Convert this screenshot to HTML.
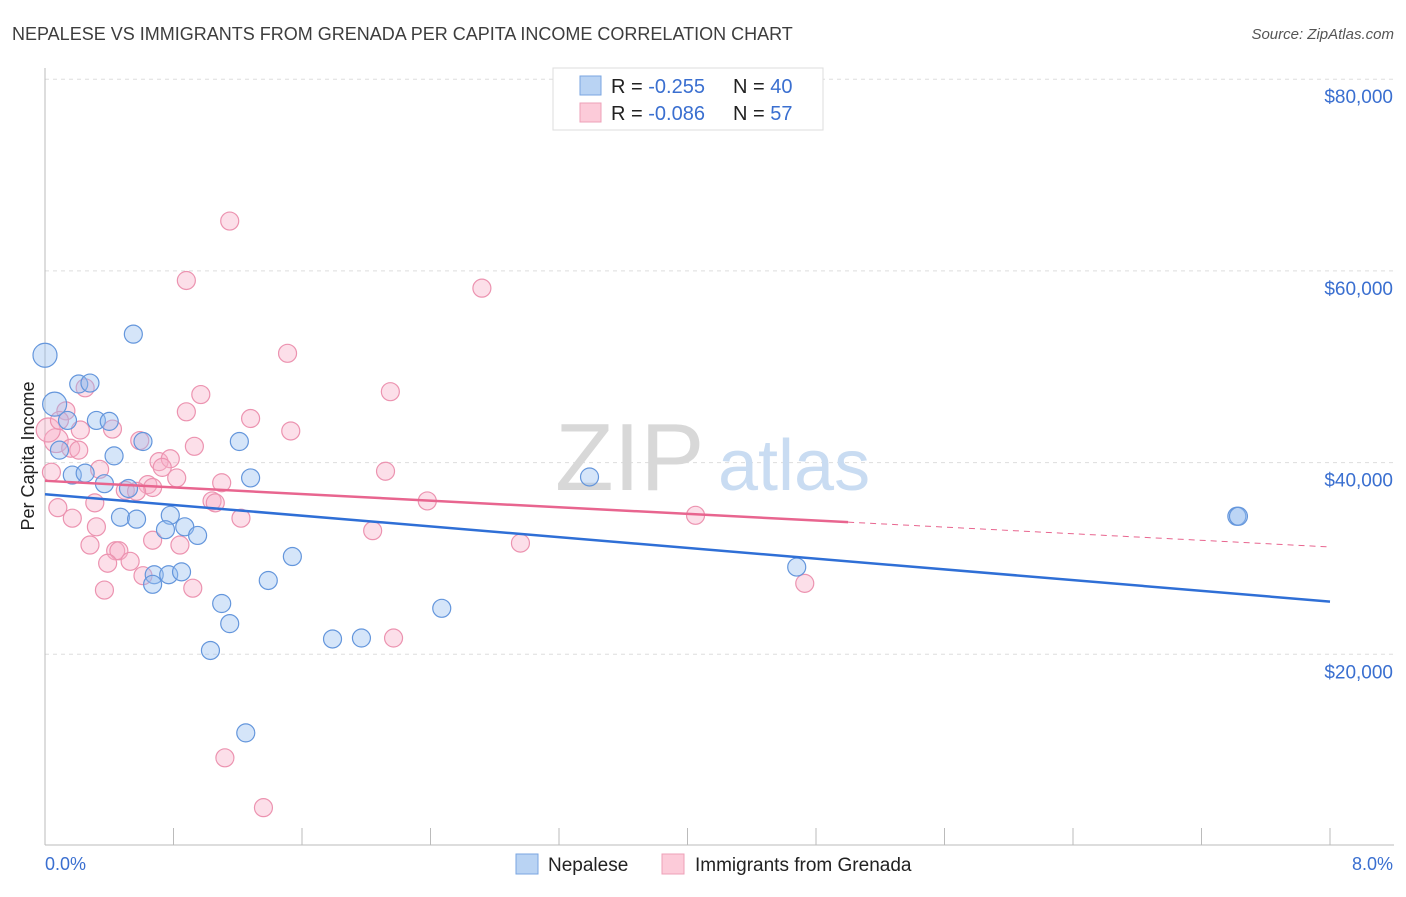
<!DOCTYPE html>
<html><head><meta charset="utf-8"><style>
body{margin:0;background:#fff;font-family:"Liberation Sans",sans-serif}
svg text{font-family:"Liberation Sans",sans-serif}
</style></head><body>
<svg width="1406" height="892" viewBox="0 0 1406 892">
<text x="12" y="40" font-size="18" fill="#3d3d3d">NEPALESE VS IMMIGRANTS FROM GRENADA PER CAPITA INCOME CORRELATION CHART</text>
<text x="1394" y="39" font-size="15" fill="#555" font-style="italic" text-anchor="end">Source: ZipAtlas.com</text>
<g id="grid"></g>
<text x="555" y="490" font-size="96" fill="#d8d8d8" font-family="Liberation Serif">ZIP</text>
<text x="718" y="490" font-size="72" fill="#c9dcf2">atlas</text>
<line x1="45" y1="68" x2="45" y2="845" stroke="#bbb"/>
<line x1="45" y1="845" x2="1394" y2="845" stroke="#bbb"/>
<g id="xticks"></g>
<text x="45" y="870" font-size="18" fill="#3a6fd0">0.0%</text>
<text x="1393" y="870" font-size="18" fill="#3a6fd0" text-anchor="end">8.0%</text>
<text transform="translate(34,456) rotate(-90)" font-size="18" fill="#222" text-anchor="middle">Per Capita Income</text>
<g id="pts"></g>
<g id="lines"></g>
<g>
<rect x="553" y="68" width="270" height="62" fill="#fff" stroke="#ddd"/>
<rect x="580" y="76" width="21" height="19" fill="#b9d3f3" stroke="#7aa6e0"/>
<rect x="580" y="103" width="21" height="19" fill="#fccbd9" stroke="#eea0b8"/>
<text x="611" y="93" font-size="20" fill="#222">R = <tspan fill="#3a6fd0">-0.255</tspan><tspan x="733">N = </tspan><tspan fill="#3a6fd0">40</tspan></text>
<text x="611" y="120" font-size="20" fill="#222">R = <tspan fill="#3a6fd0">-0.086</tspan><tspan x="733">N = </tspan><tspan fill="#3a6fd0"> 57</tspan></text>
</g>
<g>
<rect x="516" y="854" width="22" height="20" fill="#b9d3f3" stroke="#7aa6e0"/>
<text x="548" y="871" font-size="19" fill="#222">Nepalese</text>
<rect x="662" y="854" width="22" height="20" fill="#fccbd9" stroke="#eea0b8"/>
<text x="695" y="871" font-size="19" fill="#222">Immigrants from Grenada</text>
</g>
</svg>
<script>
const yTicks=[20000,40000,60000,80000];
const yTickLabels=["$20,000","$40,000","$60,000","$80,000"];
const xTicks=[0,0.8,1.6,2.4,3.2,4,4.8,5.6,6.4,7.2,8];
const nepX=[0,0.55,0.21,0.28,0.06,0.14,0.32,0.40,0.09,0.61,1.21,0.43,0.17,0.25,0.37,0.52,1.28,3.39,0.47,0.57,0.78,0.75,0.87,0.95,1.54,7.42,7.43,4.68,0.68,0.77,0.85,0.67,1.39,1.10,2.47,1.15,1.79,1.97,1.03,1.25];
const nepY=[51.2,53.4,48.2,48.3,46.1,44.4,44.4,44.3,41.3,42.2,42.2,40.7,38.7,38.9,37.8,37.3,38.4,38.5,34.3,34.1,34.5,33.0,33.3,32.4,30.2,34.4,34.4,29.1,28.3,28.3,28.6,27.3,27.7,25.3,24.8,23.2,21.6,21.7,20.4,11.8];
const nepR=[12,9,9,9,12,9,9,9,9,9,9,9,9,9,9,9,9,9,9,9,9,9,9,9,9,9,9,9,9,9,9,9,9,9,9,9,9,9,9,9];
const grnX=[1.15,0.88,2.72,1.51,0.25,0.97,2.15,0.13,0.88,1.28,0.42,1.53,0.22,0.07,0.59,0.93,0.16,0.21,0.71,0.78,0.73,0.04,0.34,0.82,2.12,0.64,0.67,1.10,0.50,0.31,1.04,1.06,2.38,0.08,0.17,1.22,4.05,0.32,2.04,0.67,0.84,0.28,2.96,0.44,0.46,0.53,0.39,0.61,4.73,0.92,0.37,2.17,1.12,1.36,0.02,0.09,0.57];
const grnY=[65.2,59.0,58.2,51.4,47.8,47.1,47.4,45.4,45.3,44.6,43.5,43.3,43.4,42.3,42.3,41.7,41.5,41.3,40.1,40.4,39.5,39.0,39.3,38.4,39.1,37.7,37.4,37.9,37.1,35.8,36.0,35.8,36.0,35.3,34.2,34.2,34.5,33.3,32.9,31.9,31.4,31.4,31.6,30.8,30.8,29.7,29.5,28.2,27.4,26.9,26.7,21.7,9.2,4.0,43.4,44.4,37.0];
const nepTrend=[36.7,25.5];
const grnTrend=[38.1,31.2];
const grnSolidEnd=5.0;
const NS="http://www.w3.org/2000/svg";
function X(v){return 45+v*(1330-45)/8;}
function Y(v){return 846-v*191.7/20000;}
function Yk(v){return Y(v*1000);}
function mk(t,a,p){const e=document.createElementNS(NS,t);for(const k in a)e.setAttribute(k,a[k]);p.appendChild(e);return e;}
const grid=document.getElementById('grid');
yTicks.forEach((t,i)=>{
 const l=mk('line',{x1:45,x2:1394,y1:Y(t),y2:Y(t),stroke:'#ddd','stroke-dasharray':'4,4'},grid);
 
 
 const tx=mk('text',{x:1393,y:Y(t)+24,'font-size':19,fill:'#3a6fd0','text-anchor':'end'},grid);
 tx.textContent=yTickLabels[i];
 
 
});
const xt=document.getElementById('xticks');
xTicks.forEach(t=>{
 const l=mk('line',{x1:X(t),x2:X(t),y1:828,y2:845,stroke:'#bbb'},xt);
 
 
});
const pts=document.getElementById('pts');
grnX.forEach((v,i)=>{
 const c=mk('circle',{cx:X(v),cy:Yk(grnY[i]),r:(i==13||i==54)?12:9,fill:'rgba(248,176,200,0.4)',stroke:'#ec93b0','stroke-width':1.2},pts);
 
 
});
nepX.forEach((v,i)=>{
 const c=mk('circle',{cx:X(v),cy:Yk(nepY[i]),r:nepR[i],fill:'rgba(150,190,240,0.4)',stroke:'#6496dc','stroke-width':1.2},pts);
 
 
});
const ln=document.getElementById('lines');
const b=mk('line',{x1:X(0),y1:Yk(nepTrend[0]),x2:X(8),y2:Yk(nepTrend[1]),stroke:'#2f6fd6','stroke-width':2.5},ln);


const ym=grnTrend[0]+(grnTrend[1]-grnTrend[0])*grnSolidEnd/8;
const p1=mk('line',{x1:X(0),y1:Yk(grnTrend[0]),x2:X(grnSolidEnd),y2:Yk(ym),stroke:'#e8658f','stroke-width':2.5},ln);


const p2=mk('line',{x1:X(grnSolidEnd),y1:Yk(ym),x2:X(8),y2:Yk(grnTrend[1]),stroke:'#e8658f','stroke-width':1,'stroke-dasharray':'6,5'},ln);


</script>
</body></html>
